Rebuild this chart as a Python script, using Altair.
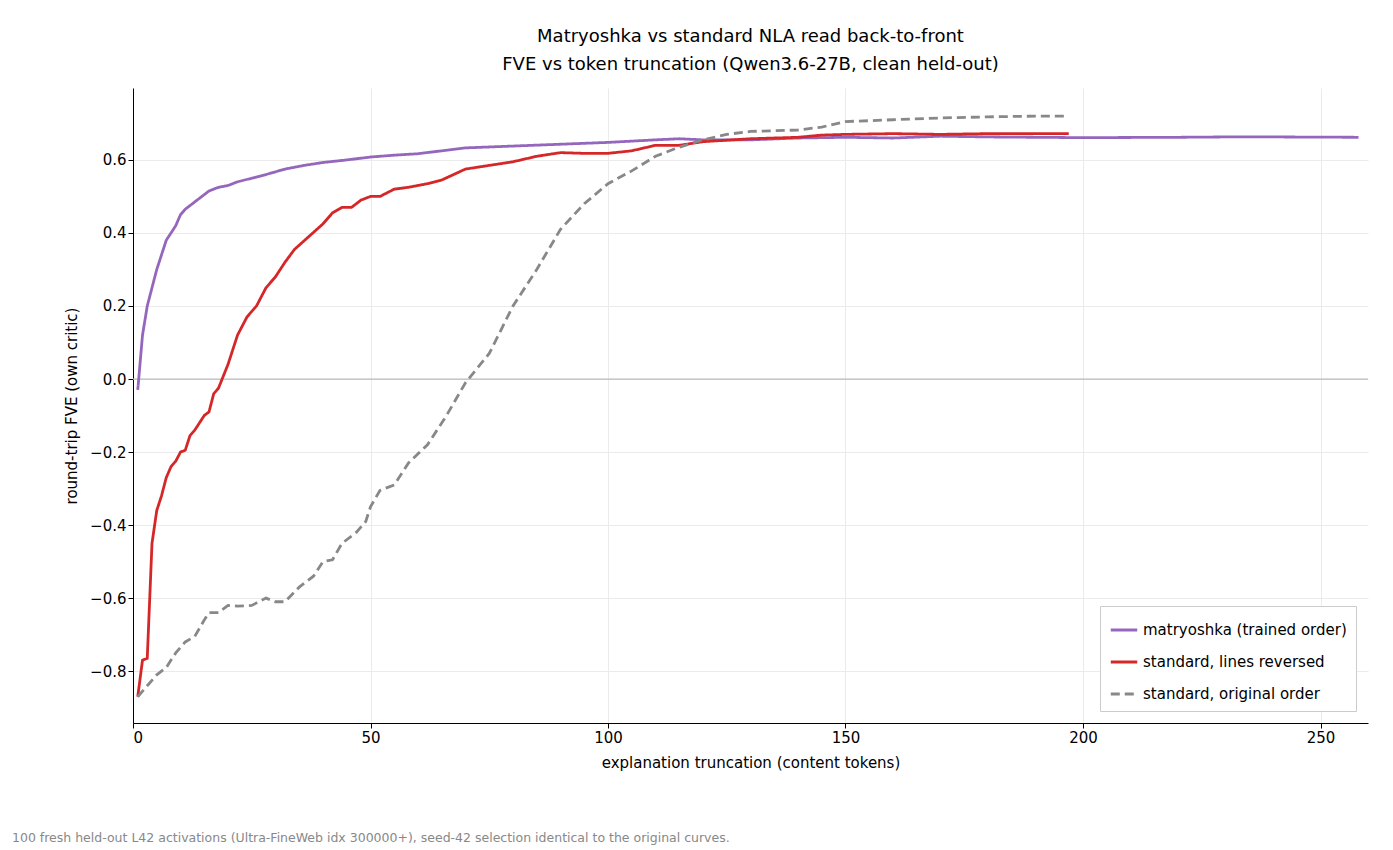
import altair as alt
import pandas as pd

# matryoshka (trained order)
mat_x = [1, 2, 3, 4, 5, 6, 7, 8, 9, 10, 11, 12, 13, 14, 15, 16, 17, 18, 20, 22, 25, 28, 32, 36, 40, 45,
         50, 55, 60, 65, 70, 80, 90, 100, 110, 115, 120, 130, 140, 150, 160, 170, 180, 200, 220, 230, 240, 258]
mat_y = [-0.03, 0.12, 0.20, 0.25, 0.30, 0.34, 0.38, 0.40, 0.42, 0.45, 0.465, 0.475, 0.485, 0.495, 0.505,
         0.515, 0.52, 0.525, 0.53, 0.54, 0.55, 0.56, 0.575, 0.585, 0.593, 0.60, 0.608, 0.613, 0.617, 0.625,
         0.633, 0.638, 0.643, 0.648, 0.655, 0.658, 0.655, 0.655, 0.66, 0.662, 0.66, 0.665, 0.663, 0.661,
         0.662, 0.663, 0.663, 0.662]

# standard, lines reversed
rev_x = [1, 2, 3, 4, 5, 6, 7, 8, 9, 10, 11, 12, 13, 14, 15, 16, 17, 18, 20, 22, 24, 26, 28, 30, 32, 34, 37,
         40, 42, 44, 46, 48, 50, 52, 55, 58, 62, 65, 70, 75, 80, 85, 90, 95, 100, 105, 110, 115, 120, 130,
         140, 145, 150, 160, 170, 180, 197]
rev_y = [-0.87, -0.77, -0.765, -0.45, -0.36, -0.32, -0.27, -0.24, -0.225, -0.20, -0.195, -0.155, -0.14,
         -0.12, -0.10, -0.09, -0.04, -0.025, 0.04, 0.12, 0.17, 0.20, 0.25, 0.28, 0.32, 0.355, 0.39, 0.425,
         0.455, 0.47, 0.47, 0.49, 0.50, 0.50, 0.52, 0.525, 0.535, 0.545, 0.575, 0.585, 0.595, 0.61, 0.62,
         0.618, 0.618, 0.625, 0.64, 0.64, 0.65, 0.658, 0.662, 0.668, 0.67, 0.672, 0.67, 0.672, 0.672]

# standard, original order
orig_x = [1, 3, 5, 7, 9, 11, 13, 15, 16, 18, 20, 22, 25, 28, 30, 32, 35, 38, 40, 42, 44, 47, 49, 50, 52,
          55, 58, 62, 66, 70, 75, 80, 85, 90, 95, 100, 105, 110, 115, 120, 125, 130, 140, 145, 150, 160,
          170, 180, 190, 197]
orig_y = [-0.87, -0.84, -0.81, -0.79, -0.75, -0.72, -0.705, -0.66, -0.64, -0.64, -0.62, -0.622, -0.62,
          -0.60, -0.61, -0.61, -0.57, -0.54, -0.50, -0.495, -0.45, -0.42, -0.39, -0.35, -0.305, -0.29,
          -0.23, -0.18, -0.10, -0.01, 0.07, 0.20, 0.30, 0.41, 0.48, 0.535, 0.57, 0.61, 0.635, 0.655, 0.67,
          0.678, 0.682, 0.69, 0.705, 0.71, 0.715, 0.718, 0.72, 0.72]

names = ["matryoshka (trained order)", "standard, lines reversed", "standard, original order"]
colors = ["#9467bd", "#d62728", "#888888"]

rows = []
for name, xs, ys in zip(names, [mat_x, rev_x, orig_x], [mat_y, rev_y, orig_y]):
    for i, (a, b) in enumerate(zip(xs, ys)):
        rows.append({"series": name, "x": a, "y": b, "i": i})
df = pd.DataFrame(rows)

W, H = 1235, 635
FONT = "DejaVu Sans"

xs = alt.Scale(domain=[0, 260], nice=False, zero=False)
ys = alt.Scale(domain=[-0.942, 0.797], nice=False, zero=False)

lines = alt.Chart(df).mark_line(strokeWidth=2.8).encode(
    x=alt.X("x:Q", scale=xs, axis=alt.Axis(values=[0, 50, 100, 150, 200, 250],
            title="explanation truncation (content tokens)")),
    y=alt.Y("y:Q", scale=ys, axis=alt.Axis(values=[-0.8, -0.6, -0.4, -0.2, 0, 0.2, 0.4, 0.6],
            format=".1f", title="round-trip FVE (own critic)")),
    order="i:Q",
    color=alt.Color("series:N", scale=alt.Scale(domain=names, range=colors),
                    legend=alt.Legend(title=None, orient="bottom-right", symbolType="stroke",
                                      symbolStrokeWidth=2.8, symbolSize=700, labelFontSize=15,
                                      labelLimit=400, strokeColor="#cccccc", fillColor="white",
                                      padding=9, rowPadding=9, offset=12, labelFont=FONT)),
    strokeDash=alt.StrokeDash("series:N", scale=alt.Scale(domain=names, range=[[1, 0], [1, 0], [9, 5]]),
                              legend=None),
)

zero = alt.Chart(pd.DataFrame({"y": [0]})).mark_rule(color="#bbbbbb", strokeWidth=1.2).encode(y="y:Q")

foot = alt.Chart(pd.DataFrame({"t": ["100 fresh held-out L42 activations (Ultra-FineWeb idx 300000+), seed-42 selection identical to the original curves."]})).mark_text(
    align="left", baseline="middle", fontSize=12.5, color="#888888", font=FONT
).encode(text="t:N", x=alt.value(-121), y=alt.value(H + 115))

chart = alt.layer(zero, lines, foot).properties(
    width=W, height=H,
    padding={"left": 4, "top": 20, "right": 10, "bottom": 5},
    title=alt.TitleParams(["Matryoshka vs standard NLA read back-to-front",
                           "FVE vs token truncation (Qwen3.6-27B, clean held-out)"],
                          fontSize=18, fontWeight="normal", font=FONT, offset=14, lineHeight=28),
).configure_view(stroke=None).configure_axis(
    labelFont=FONT, titleFont=FONT, labelFontSize=15, titleFontSize=15, titleFontWeight="normal",
    domainColor="black", tickColor="black", labelColor="black", titleColor="black",
    gridColor="#ebebeb", tickSize=5, titlePadding=10,
)

chart.save("out.html", embed_options={"renderer": "svg", "actions": False})
